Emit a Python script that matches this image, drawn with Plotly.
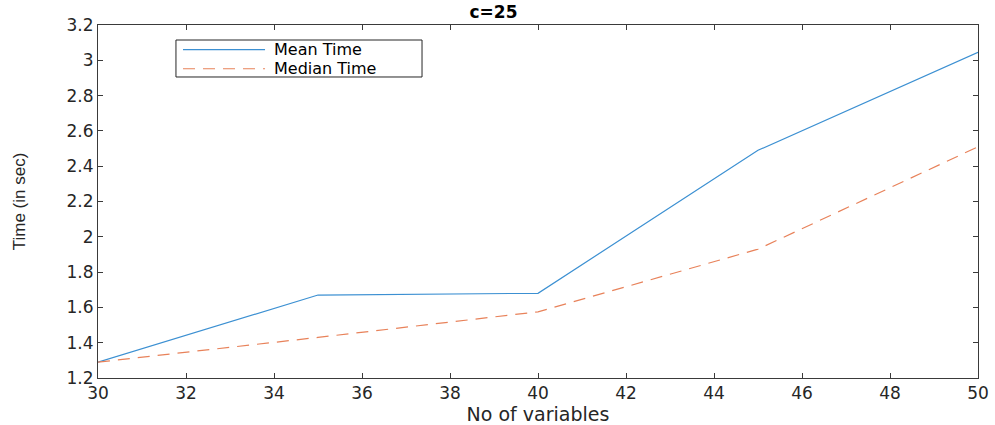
import plotly.graph_objects as go

variables = [30, 35, 40, 45, 50]
mean_time = [1.29, 1.67, 1.68, 2.49, 3.045]
median_time = [1.29, 1.43, 1.575, 1.93, 2.51]
x_ticks = [30, 32, 34, 36, 38, 40, 42, 44, 46, 48, 50]
y_ticks = [1.2, 1.4, 1.6, 1.8, 2.0, 2.2, 2.4, 2.6, 2.8, 3.0, 3.2]
y_tick_text = ["1.2", "1.4", "1.6", "1.8", "2", "2.2", "2.4", "2.6", "2.8", "3", "3.2"]
series_names = ["Mean Time", "Median Time"]

FONT = "DejaVu Sans, Liberation Sans, Arial"
MEAN_COLOR = "#3C90D2"
MEDIAN_COLOR = "#E8825A"
MEDIAN_DASH = "12px,8px"

fig = go.Figure()
fig.add_trace(go.Scatter(x=variables, y=mean_time, mode="lines", name=series_names[0],
                         line=dict(color=MEAN_COLOR, width=1.2), showlegend=False))
fig.add_trace(go.Scatter(x=variables, y=median_time, mode="lines", name=series_names[1],
                         line=dict(color=MEDIAN_COLOR, width=1.2, dash=MEDIAN_DASH), showlegend=False))

axis_common = dict(showline=True, linecolor="#3a3a3a", linewidth=1, mirror="allticks",
                   ticks="inside", ticklen=5, tickcolor="#3a3a3a", showgrid=False,
                   zeroline=False, automargin=False,
                   tickfont=dict(family=FONT, size=17, color="#262626"))

# Legend box drawn in paper coordinates (MATLAB-style legend)
box = dict(x0=0.0886, x1=0.3682, y0=0.8527, y1=0.9575)
sample_x = (0.0966, 0.1898)
row_y = [0.930, 0.876]
text_x = 0.1977

shapes = [dict(type="rect", xref="paper", yref="paper", **box,
               line=dict(color="#262626", width=1), fillcolor="white", layer="above")]
shapes.append(dict(type="line", xref="paper", yref="paper", x0=sample_x[0], x1=sample_x[1],
                   y0=row_y[0], y1=row_y[0], line=dict(color=MEAN_COLOR, width=1.2), layer="above"))
shapes.append(dict(type="line", xref="paper", yref="paper", x0=sample_x[0], x1=sample_x[1],
                   y0=row_y[1], y1=row_y[1], line=dict(color=MEDIAN_COLOR, width=1.2, dash=MEDIAN_DASH),
                   layer="above"))
annotations = [dict(xref="paper", yref="paper", x=text_x, y=yy, text=name, showarrow=False,
                    xanchor="left", yanchor="middle",
                    font=dict(family=FONT, size=16, color="black"))
               for name, yy in zip(series_names, row_y)]

fig.update_layout(
    width=995, height=425,
    margin=dict(l=98, r=17, t=25, b=47),
    paper_bgcolor="white", plot_bgcolor="white",
    title=dict(text="<b>c=25</b>", x=0.496, xanchor="center", y=0.972, yanchor="middle",
               font=dict(family=FONT, size=17, color="black")),
    xaxis=dict(range=[30, 50], tickvals=x_ticks,
               title=dict(text="No of variables", standoff=6,
                          font=dict(family=FONT, size=19, color="#262626")),
               **axis_common),
    yaxis=dict(range=[1.2, 3.2], tickvals=y_ticks, ticktext=y_tick_text,
               title=dict(text="Time (in sec)", standoff=36,
                          font=dict(family="Liberation Sans Narrow, Liberation Sans, Arial", size=17, color="#262626")),
               **axis_common),
    shapes=shapes,
    annotations=annotations,
    showlegend=False,
)

fig.write_html("out.html", post_script="document.body.style.margin='0';",
               config={"displayModeBar": False})
